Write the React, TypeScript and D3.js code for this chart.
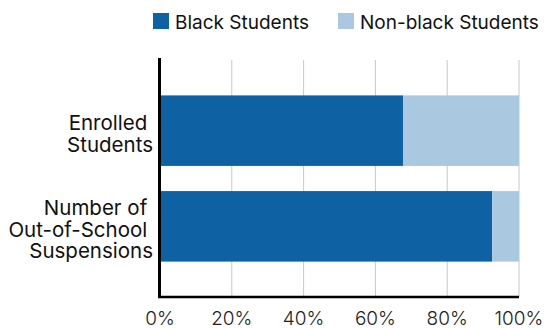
import React from "react";
import * as d3 from "d3";

const categories = ["Enrolled Students", "Number of Out-of-School Suspensions"];
const categoryLines = [["Enrolled ", "Students"], ["Number of ", "Out-of-School ", "Suspensions"]];
const blackShare = [67.7, 92.5];
const nonBlackShare = [32.3, 7.5];
const seriesNames = ["Black Students", "Non-black Students"];
const seriesColors = ["#0e61a2", "#aac8e0"];
const tickValues = [0, 20, 40, 60, 80, 100];

const W = 546;
const H = 328;
const FONT = "Inter, Roboto, 'Noto Sans', sans-serif";

export default function App() {
  const x = d3.scaleLinear().domain([0, 100]).range([160, 519]);
  const y = d3
    .scaleBand<string>()
    .domain(categories)
    .range([60, 297])
    .paddingInner(0.263)
    .paddingOuter(0.37);

  const rows = categories.map((c, i) => ({
    cat: c,
    lines: categoryLines[i],
    segs: [
      { x0: 0, x1: blackShare[i], color: seriesColors[0] },
      { x0: blackShare[i], x1: blackShare[i] + nonBlackShare[i], color: seriesColors[1] },
    ],
  }));

  const lineH = 21.5;

  return (
    <svg
      width={W}
      height={H}
      style={{ position: "absolute", left: 0, top: 0, fontFamily: FONT }}
    >
      <rect x={0} y={0} width={W} height={H} fill="#fff" />
      {/* legend */}
      <g>
        <rect x={153} y={13} width={16} height={16} fill={seriesColors[0]} />
        <text x={175} y={29} fontSize={19} fill="#111">
          {seriesNames[0]}
        </text>
        <rect x={338} y={13} width={16} height={16} fill={seriesColors[1]} />
        <text x={360} y={29} fontSize={19} fill="#111">
          {seriesNames[1]}
        </text>
      </g>
      {/* grid */}
      {tickValues.slice(1).map((t) => (
        <line
          key={t}
          x1={x(t)}
          x2={x(t)}
          y1={60}
          y2={297}
          stroke="#c8c8c8"
          strokeWidth={1}
        />
      ))}
      {/* bars */}
      {rows.map((r) => (
        <g key={r.cat}>
          {r.segs.map((s, j) => (
            <rect
              key={j}
              x={x(s.x0)}
              y={y(r.cat)}
              width={x(s.x1) - x(s.x0)}
              height={y.bandwidth()}
              fill={s.color}
            />
          ))}
        </g>
      ))}
      {/* axes */}
      <line x1={159.5} x2={159.5} y1={58} y2={298} stroke="#000" strokeWidth={3} />
      <line x1={158} x2={519} y1={297} y2={297} stroke="#000" strokeWidth={2.5} />
      {/* category labels */}
      {rows.map((r) => {
        const c = (y(r.cat) as number) + y.bandwidth() / 2 + 10.5;
        const n = r.lines.length;
        const firstBaseline = c - ((n - 1) * lineH) / 2;
        return (
          <text
            key={r.cat}
            textAnchor="end"
            fontSize={20.5}
            fill="#111"
            style={{ whiteSpace: "pre" }}
          >
            {r.lines.map((l, k) => (
              <tspan key={k} x={153} y={firstBaseline + k * lineH}>
                {l}
              </tspan>
            ))}
          </text>
        );
      })}
      {/* tick labels */}
      {tickValues.map((t) => (
        <text
          key={t}
          x={x(t)}
          y={325}
          textAnchor="middle"
          fontSize={19}
          fontWeight={300}
          fill="#222"
        >
          {t}%
        </text>
      ))}
    </svg>
  );
}
